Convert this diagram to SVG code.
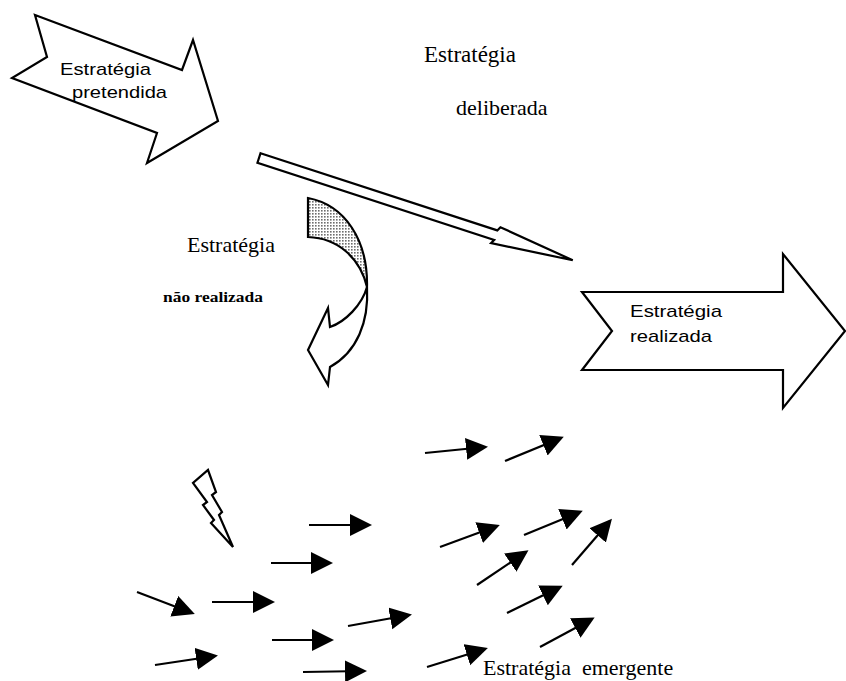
<svg xmlns="http://www.w3.org/2000/svg" width="846" height="681" viewBox="0 0 846 681">
  <defs>
    <pattern id="stipple" width="3" height="3" patternUnits="userSpaceOnUse">
      <rect width="3" height="3" fill="#ffffff"/>
      <rect width="1.6" height="1.6" fill="#6e6e6e"/>
    </pattern>
    <marker id="head" markerUnits="userSpaceOnUse" markerWidth="24" markerHeight="24" refX="19" refY="11" orient="auto">
      <path d="M0,0 L22,11 L0,22 Z" fill="#000"/>
    </marker>
  </defs>
  <style>
    .outline { fill: #ffffff; stroke: #000; stroke-width: 2.2; stroke-linejoin: miter; }
    .serif { font-family: "Liberation Serif", "Times New Roman", serif; fill: #000; }
    .sans { font-family: "Liberation Sans", Arial, sans-serif; fill: #000; }
    .small { stroke: #000; stroke-width: 2.2; fill: none; marker-end: url(#head); }
  </style>
  <rect width="846" height="681" fill="#ffffff"/>

  <!-- intended strategy block arrow -->
  <g id="pretendida">
    <polygon class="outline" points="35,15 182,70 193,40 218,121 147,163 157,133 12,78 47,57"/>
    <text class="sans" x="60" y="75" font-size="17" textLength="91" lengthAdjust="spacingAndGlyphs">Estratégia</text>
    <text class="sans" x="72" y="98" font-size="17" textLength="95" lengthAdjust="spacingAndGlyphs">pretendida</text>
  </g>

  <!-- deliberate strategy label -->
  <g id="deliberada-label">
    <text class="serif" x="424" y="62" font-size="23">Estratégia</text>
    <text class="serif" x="456" y="115" font-size="22">deliberada</text>
  </g>

  <!-- deliberate strategy: long hollow arrow -->
  <g id="deliberada">
    <g transform="translate(259,158) rotate(18.05)">
      <polygon class="outline" stroke-width="2" points="0,-5 249,-5 251,-9 330,0 247,9 249,5 0,5"/>
    </g>
  </g>

  <!-- unrealized strategy: curled arrow -->
  <g id="nao-realizada">
    <path class="outline" d="M330,367 L328,385 L308,350 L328,308 L330,327 C345,322 362,305 367,287 C369,322 357,352 330,367 Z"/>
    <path class="outline" style="fill:url(#stipple)" d="M308,198 C345,205 368,240 367,287 C360,258 338,238 308,237 Z"/>
    <text class="serif" x="187" y="252" font-size="22">Estratégia</text>
    <text class="serif" x="163" y="302" font-size="15" font-weight="bold" textLength="100" lengthAdjust="spacingAndGlyphs">não realizada</text>
  </g>

  <!-- realized strategy block arrow -->
  <g id="realizada">
    <polygon class="outline" points="582,292 783,292 783,254 845,331 783,408 783,370 582,370 612,331"/>
    <text class="sans" x="630" y="317" font-size="17" textLength="92" lengthAdjust="spacingAndGlyphs">Estratégia</text>
    <text class="sans" x="630" y="342" font-size="17" textLength="82" lengthAdjust="spacingAndGlyphs">realizada</text>
  </g>

  <!-- external shock -->
  <g id="raio">
    <polygon class="outline" points="208,470 216,492 212,495 222,512 219,515 233,547 211,523 214,520 203,505 207,502 193,483"/>
  </g>

  <!-- emergent strategy: scattered small arrows -->
  <g id="emergente">
    <line class="small" x1="137" y1="592" x2="192" y2="613"/>
    <line class="small" x1="212" y1="602" x2="272" y2="602"/>
    <line class="small" x1="271" y1="563" x2="330" y2="563"/>
    <line class="small" x1="309" y1="525" x2="369" y2="525"/>
    <line class="small" x1="272" y1="640" x2="331" y2="640"/>
    <line class="small" x1="303" y1="672" x2="364" y2="671"/>
    <line class="small" x1="155" y1="665" x2="215" y2="656"/>
    <line class="small" x1="348" y1="626" x2="409" y2="615"/>
    <line class="small" x1="425" y1="453" x2="485" y2="447"/>
    <line class="small" x1="505" y1="461" x2="561" y2="438"/>
    <line class="small" x1="440" y1="547" x2="497" y2="526"/>
    <line class="small" x1="524" y1="535" x2="580" y2="512"/>
    <line class="small" x1="572" y1="565" x2="610" y2="521"/>
    <line class="small" x1="477" y1="585" x2="526" y2="552"/>
    <line class="small" x1="507" y1="613" x2="560" y2="587"/>
    <line class="small" x1="540" y1="647" x2="592" y2="619"/>
    <line class="small" x1="427" y1="667" x2="485" y2="649"/>
    <text class="serif" x="483" y="675" font-size="22" xml:space="preserve">Estratégia  emergente</text>
  </g>
</svg>
